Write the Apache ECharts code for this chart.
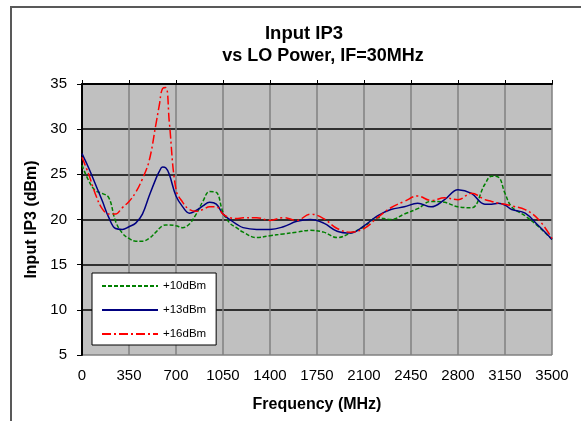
<!DOCTYPE html>
<html>
<head>
<meta charset="utf-8">
<script src="https://cdn.jsdelivr.net/npm/echarts@6/dist/echarts.min.js"></script>
<style>
html,body{margin:0;padding:0;background:#fff;}
#chart{width:581px;height:421px;}
</style>
</head>
<body>
<div id="chart"></div>
<script>
var freq = [0,50,100,150,200,250,300,350,400,450,500,550,575,600,625,650,700,750,800,850,900,950,1000,1050,1100,1150,1200,1300,1400,1500,1600,1700,1800,1900,2000,2100,2200,2300,2400,2500,2600,2700,2800,2900,3000,3050,3100,3150,3200,3300,3400,3500];
var ip3_10 = [26.0,24.3,23.2,22.9,22.4,19.8,18.5,17.9,17.6,17.6,17.9,18.6,19.0,19.3,19.4,19.4,19.3,19.1,19.5,20.6,22.0,23.1,23.0,20.8,19.6,19.1,18.6,18.0,18.2,18.4,18.6,18.8,18.6,18.0,18.5,19.2,20.2,20.0,20.6,21.2,22.0,21.9,21.4,21.3,23.9,24.8,24.7,22.9,21.4,20.4,19.2,17.8];
var ip3_13 = [27.3,25.7,23.9,22.1,20.2,19.0,18.9,19.2,19.6,20.6,22.6,24.5,25.3,25.8,25.7,25.0,22.6,21.4,20.7,21.0,21.5,21.9,21.7,20.6,20.0,19.5,19.1,18.9,18.9,19.2,19.8,20.0,19.6,18.7,18.5,19.3,20.4,21.1,21.4,21.8,21.4,22.2,23.3,22.9,21.7,21.7,21.8,21.6,21.1,20.7,19.3,17.8];
var ip3_16 = [26.9,25.0,22.8,21.2,20.6,20.6,21.3,22.0,23.0,24.5,26.5,30.5,32.6,34.5,34.6,30.8,23.3,21.9,21.1,20.9,21.1,21.4,21.4,20.6,20.2,20.1,20.2,20.2,19.9,20.2,19.9,20.6,20.1,19.0,18.6,19.0,20.2,21.3,22.0,22.6,22.1,22.4,22.2,22.9,22.2,22.0,21.8,21.7,21.5,21.1,20.0,17.9];
var seriesNames = ['+10dBm','+13dBm','+16dBm'];
var yTicks = [5,10,15,20,25,30,35];
var xTicks = [0,350,700,1050,1400,1750,2100,2450,2800,3150,3500];

function pairs(vals){ return freq.map(function(f,i){ return [f, vals[i]]; }); }

var chart = echarts.init(document.getElementById('chart'), null, {renderer:'canvas'});
var FONT = 'Liberation Sans, Arial, sans-serif';
var option = {
  animation:false,
  backgroundColor:'#fff',
  textStyle:{fontFamily:FONT},
  graphic:[
    {type:'rect', shape:{x:11,y:7,width:700,height:600}, style:{fill:'none', stroke:'#595959', lineWidth:2}, silent:true, z:-1},
    {type:'text', x:304, y:34, style:{text:'Input IP3', font:'bold 18.5px '+FONT, fill:'#000', textAlign:'center', textVerticalAlign:'middle'}},
    {type:'text', x:323, y:56, style:{text:'vs LO Power, IF=30MHz', font:'bold 18px '+FONT, fill:'#000', textAlign:'center', textVerticalAlign:'middle'}}
  ],
  legend:{
    orient:'vertical', left:92, top:273,
    backgroundColor:'#fff', borderColor:'#000', borderWidth:1, borderRadius:0,
    padding:[7,10,5,9], itemWidth:56, itemHeight:12, itemGap:12,
    itemStyle:{opacity:0},
    textStyle:{fontSize:11.5, color:'#000', fontFamily:FONT},
    data:seriesNames
  },
  grid:{left:82, top:84, right:29, bottom:66, containLabel:false,
        show:true, backgroundColor:'#c0c0c0', borderWidth:0},
  xAxis:[{
    type:'value', min:0, max:3500, interval:350, position:'bottom',
    name:'Frequency (MHz)', nameLocation:'middle', nameGap:42,
    nameTextStyle:{fontSize:16, fontWeight:'bold', color:'#000', fontFamily:FONT},
    axisLine:{show:false}, axisTick:{show:false},
    axisLabel:{fontSize:15, color:'#000', margin:13, fontFamily:FONT,
               formatter:function(v){ return String(v); }},
    splitLine:{show:true, lineStyle:{color:'#808080', width:1.5}}
  },{
    type:'value', min:0, max:3500, interval:350, position:'top',
    axisLine:{show:true, lineStyle:{color:'#000', width:2}},
    axisTick:{show:true, inside:false, length:4, lineStyle:{color:'#000', width:1}},
    axisLabel:{show:false}, splitLine:{show:false}
  }],
  yAxis:{
    type:'value', min:5, max:35, interval:5,
    name:'Input IP3 (dBm)', nameLocation:'middle', nameGap:38,
    nameTextStyle:{fontSize:16, fontWeight:'bold', color:'#000', fontFamily:FONT},
    axisLine:{show:true, lineStyle:{color:'#000', width:2}},
    axisTick:{show:true, length:5, lineStyle:{color:'#000', width:1}},
    axisLabel:{fontSize:15, color:'#000', margin:15, padding:[4,0,0,0], fontFamily:FONT},
    splitLine:{show:true, lineStyle:{color:['#808080','#000','#000','#000','#000','#000','#000'], width:1.5}}
  },
  series:[
    {name:seriesNames[0], type:'line', data:pairs(ip3_10), symbol:'none', smooth:0.4,
     lineStyle:{color:'#008000', width:1.5, type:[4,2]}, itemStyle:{color:'#008000'}},
    {name:seriesNames[1], type:'line', data:pairs(ip3_13), symbol:'none', smooth:0.4,
     lineStyle:{color:'#000080', width:1.5, type:'solid'}, itemStyle:{color:'#000080'}},
    {name:seriesNames[2], type:'line', data:pairs(ip3_16), symbol:'none', smooth:0.4,
     lineStyle:{color:'#ff0000', width:1.5, type:[9,3,2,3]}, itemStyle:{color:'#ff0000'}}
  ]
};
chart.setOption(option);
</script>
</body>
</html>
